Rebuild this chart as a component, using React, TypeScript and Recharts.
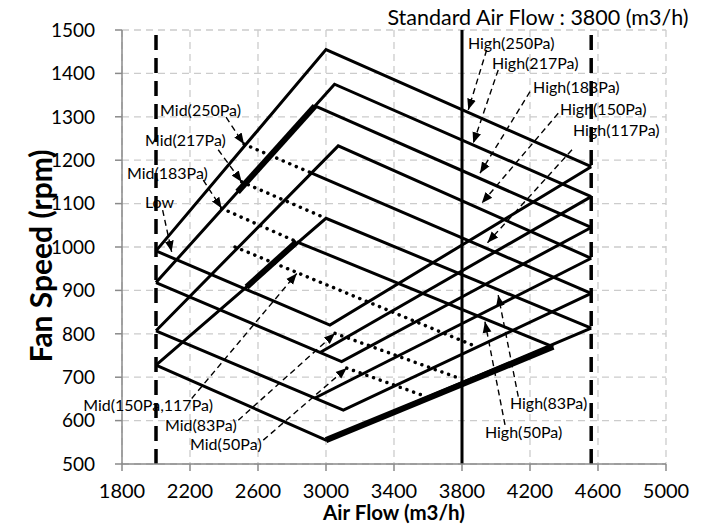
import React from 'react'
import {
  ComposedChart,
  Line,
  Scatter,
  XAxis,
  YAxis,
  CartesianGrid,
  ReferenceLine,
  Label,
} from 'recharts'

const xTicks = [1800, 2200, 2600, 3000, 3400, 3800, 4200, 4600, 5000]
const yTicks = [500, 600, 700, 800, 900, 1000, 1100, 1200, 1300, 1400, 1500]

const minFlow = 2000
const maxFlow = 4560
const standardFlow = 3800

// solid fan curves: [air flow, rpm]
const solidCurves = [
  // rising from the low-flow limit, then falling to the high-flow limit
  [[2000, 991], [3000, 1455], [4560, 1185]],
  [[2000, 918], [3050, 1375], [4560, 1116]],
  [[2935, 1325], [4560, 1045]],
  [[2000, 807], [3072, 1233], [4560, 974]],
  [[2916, 1170], [4560, 893]],
  [[2000, 728], [3000, 1066], [4560, 813]],
  [[2828, 1012], [4337, 770]],
  // falling from the low-flow limit, then rising to the high-flow limit
  [[2000, 991], [3023, 820], [4560, 1185]],
  [[2000, 918], [3092, 736], [4560, 1045]],
  [[2965, 757], [4560, 1116]],
  [[2000, 807], [3102, 624], [4560, 893]],
  [[2935, 652], [4560, 974]],
  [[2000, 728], [3000, 555], [4560, 813]],
]

const thickCurves = [
  [[2480, 1127], [2935, 1325]],
  [[2533, 908], [2828, 1012]],
  [[3000, 555], [4337, 770]],
]

const midCurves = [
  [[2518, 1237], [2916, 1170]],
  [[2504, 1150], [3000, 1066]],
  [[2386, 1089], [2828, 1012]],
  [[2465, 1000], [3886, 770]],
  [[3053, 801], [3788, 697]],
  [[3122, 721], [3563, 659]],
]

// leader lines: [label end, arrow tip]
const leaders = [
  [[2412, 1299], [2518, 1237]],
  [[2366, 1224], [2504, 1150]],
  [[2278, 1154], [2386, 1089]],
  [[2039, 1085], [2092, 989]],
  [[2210, 651], [2828, 939]],
  [[2484, 601], [3053, 801]],
  [[2631, 555], [3122, 721]],
  [[3945, 1454], [3837, 1316]],
  [[4013, 1408], [3866, 1239]],
  [[4200, 1358], [3906, 1170]],
  [[4366, 1308], [3916, 1101]],
  [[4447, 1224], [3950, 1010]],
  [[4131, 655], [4013, 889]],
  [[4053, 590], [3935, 828]],
]

const labelNames = [
  'Mid(250Pa)', 'Mid(217Pa)', 'Mid(183Pa)', 'Low',
  'Mid(150Pa,117Pa)', 'Mid(83Pa)', 'Mid(50Pa)',
  'High(250Pa)', 'High(217Pa)', 'High(183Pa)', 'High(150Pa)', 'High(117Pa)',
  'High(83Pa)', 'High(50Pa)',
]
const labelX = [2024, 1935, 1829, 1935, 2335, 2053, 2200, 3835, 3976, 4218, 4376, 4453, 4082, 3935]
const labelY = [1316, 1247, 1171, 1104, 638, 590, 548, 1472, 1424, 1369, 1320, 1270, 641, 574]
const labelAnchor = ['start', 'start', 'start', 'start', 'end', 'start', 'start',
  'start', 'start', 'start', 'start', 'start', 'start', 'start']

const toPoints = (c: number[][]) => c.map(([x, y]) => ({ x, y }))

const labels = labelNames.map((text, i) => ({
  x: labelX[i], y: labelY[i], text, anchor: labelAnchor[i],
}))

const font = "Lato, 'Open Sans', sans-serif"

function LabelShape(props: any) {
  const { cx, cy, payload } = props
  if (cx === undefined || cy === undefined) return null
  return (
    <text x={cx} y={cy} textAnchor={payload.anchor} dominantBaseline="central"
      fontSize={16} fontFamily={font} fill="#000">
      {payload.text}
    </text>
  )
}

export default function App() {
  return (
    <div style={{ position: 'absolute', left: 0, top: 0, width: 706, height: 532, background: '#fff' }}>
      <svg width={0} height={0} style={{ position: 'absolute' }}>
        <defs>
          <marker id="arrowHead" viewBox="0 0 10 10" refX="10" refY="5"
            markerWidth="11" markerHeight="11" markerUnits="userSpaceOnUse" orient="auto">
            <path d="M0,1 L10,5 L0,9 z" fill="#000" />
          </marker>
        </defs>
      </svg>
      <ComposedChart width={706} height={532} margin={{ top: 30, right: 40, bottom: 0, left: 0 }}>
        <CartesianGrid stroke="#cccccc" strokeDasharray="7 5" strokeWidth={1.3} />
        <XAxis
          type="number"
          dataKey="x"
          domain={[1800, 5000]}
          ticks={xTicks}
          height={68}
          tickSize={7}
          tickMargin={13}
          stroke="#8a8a8a"
          strokeWidth={1.5}
          tick={{ fontSize: 20, fill: '#000', fontFamily: font }}
        >
          <Label
            content={(p: any) => (
              <text x={p.viewBox.x + p.viewBox.width / 2} y={p.viewBox.y + 56} textAnchor="middle"
                fontSize={20.5} fontWeight={700} fontFamily={font} fill="#000">
                Air Flow (m3/h)
              </text>
            )}
          />
        </XAxis>
        <YAxis
          type="number"
          dataKey="y"
          domain={[500, 1500]}
          ticks={yTicks}
          width={122}
          tickSize={7}
          tickMargin={20}
          stroke="#8a8a8a"
          strokeWidth={1.5}
          tick={{ fontSize: 19, fill: '#000', fontFamily: font }}
        >
          <Label
            content={(p: any) => {
              const cx = p.viewBox.x + 40
              const cy = p.viewBox.y + p.viewBox.height / 2 + 9
              return (
                <text x={cx} y={cy} transform={`rotate(-90 ${cx} ${cy})`} textAnchor="middle"
                  dominantBaseline="central" fontSize={30} fontWeight={700} fontFamily={font} fill="#000">
                  Fan Speed (rpm)
                </text>
              )
            }}
          />
        </YAxis>
        <ReferenceLine x={minFlow} stroke="#000" strokeWidth={3.5} strokeDasharray="15 8" />
        <ReferenceLine x={maxFlow} stroke="#000" strokeWidth={3.5} strokeDasharray="15 8" />
        <ReferenceLine x={standardFlow} stroke="#000" strokeWidth={3}>
          <Label
            content={(p: any) => (
              <text x={p.viewBox.x + 76} y={p.viewBox.y - 13} textAnchor="middle"
                dominantBaseline="central" fontSize={21.5} fontFamily={font} fill="#000">
                Standard Air Flow : 3800 (m3/h)
              </text>
            )}
          />
        </ReferenceLine>
        {solidCurves.map((c, i) => (
          <Line key={`s${i}`} data={toPoints(c)} dataKey="y" type="linear" stroke="#000"
            strokeWidth={3} dot={false} activeDot={false} isAnimationActive={false} />
        ))}
        {thickCurves.map((c, i) => (
          <Line key={`t${i}`} data={toPoints(c)} dataKey="y" type="linear" stroke="#000"
            strokeWidth={6} dot={false} activeDot={false} isAnimationActive={false} />
        ))}
        {midCurves.map((c, i) => (
          <Line key={`m${i}`} data={toPoints(c)} dataKey="y" type="linear" stroke="#000"
            strokeWidth={3.5} strokeDasharray="0.1 7" strokeLinecap="round"
            dot={false} activeDot={false} isAnimationActive={false} />
        ))}
        {leaders.map((c, i) => (
          <Line key={`a${i}`} data={toPoints(c)} dataKey="y" type="linear" stroke="#000"
            strokeWidth={1.4} strokeDasharray="6 4" markerEnd="url(#arrowHead)"
            dot={false} activeDot={false} isAnimationActive={false} />
        ))}
        <Scatter data={labels} dataKey="y" shape={<LabelShape />} isAnimationActive={false} />
      </ComposedChart>
    </div>
  )
}
